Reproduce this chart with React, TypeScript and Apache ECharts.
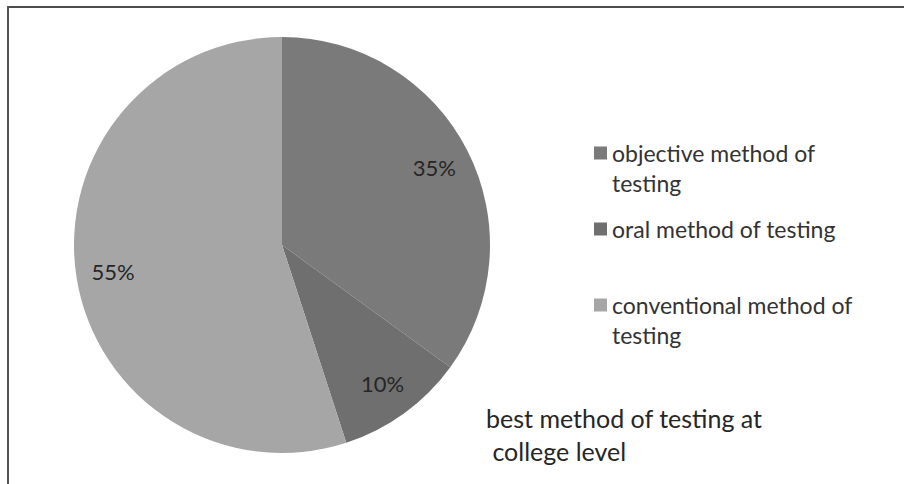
import React, { useEffect, useRef } from "react";
import * as echarts from "echarts";

const categories = [
  "objective method of testing",
  "oral method of testing",
  "conventional method of testing",
];
const legendLabels = [
  "\nobjective method of\ntesting",
  "oral method of testing",
  "\nconventional method of\ntesting",
];
const values = [35, 10, 55];
const colors = ["#7a7a7a", "#6f6f6f", "#a6a6a6"];
const titleText = "best method of testing at\n college level";

export default function App() {
  const ref = useRef<HTMLDivElement>(null);
  useEffect(() => {
    if (!ref.current) return;
    const chart = echarts.init(ref.current, undefined, { renderer: "svg" });
    const font = "Lato, 'Open Sans', sans-serif";
    const data = categories.map((name, i) => ({
      name,
      value: values[i],
      itemStyle: { color: colors[i] },
    }));
    chart.setOption({
      animation: false,
      backgroundColor: "#ffffff",
      title: {
        text: titleText,
        left: 486,
        top: 401,
        padding: 0,
        textStyle: {
          fontFamily: font,
          fontSize: 25,
          fontWeight: "normal",
          color: "#262626",
          lineHeight: 33,
        },
      },
      legend: {
        orient: "vertical",
        left: 594,
        top: 108,
        padding: 0,
        itemWidth: 13,
        itemHeight: 13,
        itemGap: 16,
        icon: "rect",
        data: categories,
        formatter: (name: string) => legendLabels[categories.indexOf(name)],
        textStyle: {
          fontFamily: font,
          fontSize: 23,
          color: "#333333",
          lineHeight: 30,
        },
      },
      graphic: [
        {
          type: "line",
          shape: { x1: 7, y1: 7, x2: 904, y2: 7 },
          style: { stroke: "#111111", lineWidth: 1.5 },
        },
        {
          type: "line",
          shape: { x1: 8, y1: 6, x2: 8, y2: 484 },
          style: { stroke: "#555555", lineWidth: 2 },
        },
      ],
      series: [
        {
          type: "pie",
          center: [282, 245],
          radius: [0, 208],
          startAngle: 90,
          clockwise: true,
          label: { show: false },
          labelLine: { show: false },
          itemStyle: { borderWidth: 0 },
          emphasis: { disabled: true },
          data,
        },
        {
          type: "pie",
          center: [282, 245],
          radius: [128, 208],
          startAngle: 90,
          clockwise: true,
          silent: true,
          itemStyle: { color: "rgba(0,0,0,0)", borderWidth: 0 },
          label: {
            show: true,
            position: "inside",
            formatter: "{d}%",
            fontFamily: font,
            fontSize: 22,
            color: "#262626",
          },
          labelLine: { show: false },
          emphasis: { disabled: true },
          data: categories.map((name, i) => ({ name, value: values[i] })),
        },
      ],
    });
    return () => chart.dispose();
  }, []);
  return (
    <div
      ref={ref}
      style={{ position: "fixed", left: 0, top: 0, width: 904, height: 484 }}
    />
  );
}
